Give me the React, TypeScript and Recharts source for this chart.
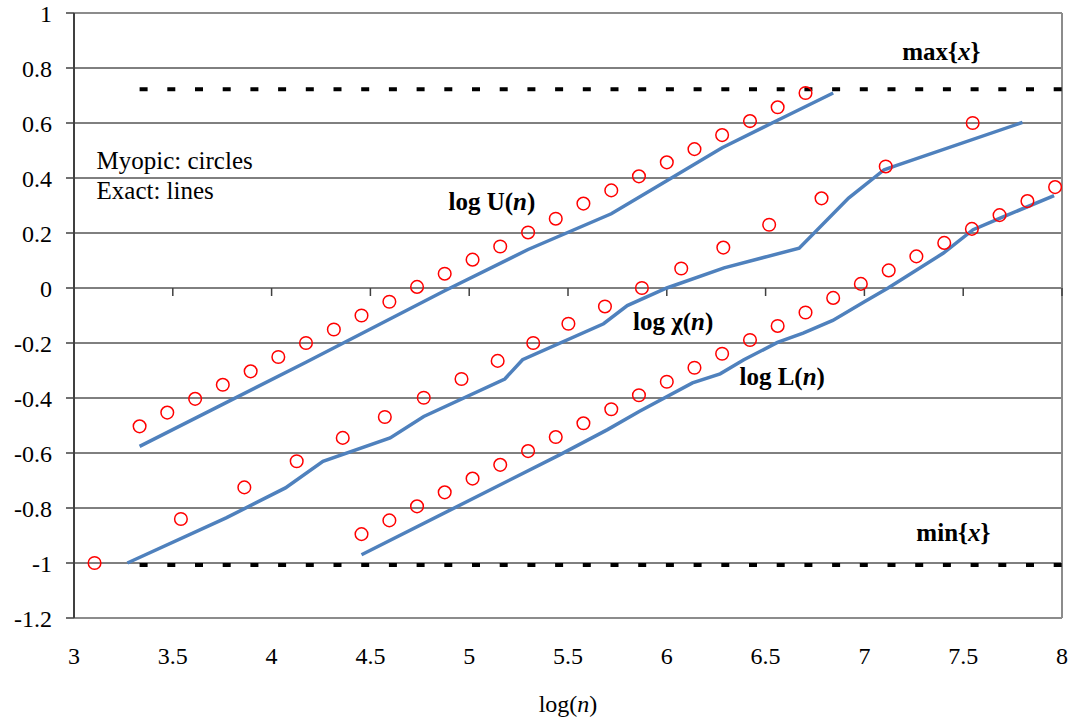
import {
  CartesianGrid,
  ComposedChart,
  Label,
  Line,
  ReferenceDot,
  ReferenceLine,
  Scatter,
  XAxis,
  YAxis,
} from 'recharts'

const SERIF = '"Liberation Serif", "Times New Roman", serif'

// log(n) grid shared by the U and L myopic estimates
const gridLogN = [
  3.332, 3.472, 3.613, 3.753, 3.894, 4.034, 4.174, 4.315, 4.455, 4.596, 4.736, 4.876,
  5.017, 5.157, 5.298, 5.438, 5.578, 5.719, 5.859, 6.0, 6.14, 6.28, 6.421, 6.561,
  6.702, 6.842, 6.982, 7.123, 7.263, 7.404, 7.544, 7.684, 7.825, 7.965,
]

// myopic (circles)
const myopicU = [
  -0.503, -0.453, -0.403, -0.352, -0.303, -0.251, -0.2, -0.151, -0.1, -0.05, 0.004,
  0.052, 0.103, 0.151, 0.202, 0.252, 0.307, 0.355, 0.406, 0.457, 0.505, 0.556, 0.607,
  0.657, 0.709,
]
const myopicL = [
  -0.895, -0.845, -0.794, -0.743, -0.693, -0.643, -0.593, -0.542, -0.492, -0.441, -0.39,
  -0.341, -0.29, -0.239, -0.189, -0.138, -0.089, -0.036, 0.015, 0.064, 0.115, 0.164,
  0.215, 0.265, 0.316, 0.367,
]
const myopicChiX = [
  3.104, 3.541, 3.862, 4.127, 4.36, 4.573, 4.77, 4.961, 5.144, 5.324, 5.502, 5.687,
  5.874, 6.073, 6.286, 6.518, 6.783, 7.108, 7.548,
]
const myopicChi = [
  -1.0, -0.84, -0.725, -0.63, -0.545, -0.469, -0.399, -0.331, -0.265, -0.2, -0.13,
  -0.067, 0.0, 0.071, 0.147, 0.23, 0.326, 0.442, 0.6,
]

// exact (lines)
const exactUX = [3.332, 4.174, 4.876, 5.298, 5.719, 6.0, 6.28, 6.561, 6.842]
const exactU = [-0.576, -0.27, -0.01, 0.14, 0.27, 0.39, 0.51, 0.61, 0.709]
const exactChiX = [
  3.27, 3.77, 4.07, 4.26, 4.6, 4.77, 5.18, 5.27, 5.68, 5.8, 6.0, 6.29, 6.67, 6.92, 7.1,
  7.16, 7.8,
]
const exactChi = [
  -1.0, -0.836, -0.727, -0.63, -0.545, -0.467, -0.331, -0.261, -0.13, -0.064, 0.0, 0.073,
  0.145, 0.327, 0.43, 0.445, 0.602,
]
const exactLX = [
  4.455, 5.46, 5.7, 5.86, 6.13, 6.27, 6.39, 6.56, 6.69, 6.84, 7.0, 7.12, 7.4, 7.55, 7.69,
  7.96,
]
const exactL = [
  -0.97, -0.606, -0.515, -0.449, -0.345, -0.312, -0.261, -0.198, -0.164, -0.118, -0.05,
  0.0, 0.127, 0.212, 0.255, 0.336,
]

// bounds
const boundX = [3.332, 8]
const maxX = 0.723
const minX = -1.007

const xTicks = [3, 3.5, 4, 4.5, 5, 5.5, 6, 6.5, 7, 7.5, 8]
const yTicks = [-1.2, -1, -0.8, -0.6, -0.4, -0.2, 0, 0.2, 0.4, 0.6, 0.8, 1]

const pts = (xs: number[], ys: number[]) => xs.map((x, i) => ({ x, y: ys[i] }))

const circlesU = pts(gridLogN.slice(0, myopicU.length), myopicU)
const circlesL = pts(gridLogN.slice(8, 8 + myopicL.length), myopicL)
const circlesChi = pts(myopicChiX, myopicChi)
const lineU = pts(exactUX, exactU)
const lineChi = pts(exactChiX, exactChi)
const lineL = pts(exactLX, exactL)
const maxLine = pts(boundX, [maxX, maxX])
const minLine = pts(boundX, [minX, minX])

const Ring = (p: any) => (
  <circle cx={p.cx} cy={p.cy} r={6.3} fill="none" stroke="#FF0000" strokeWidth={1.5} />
)

const XTick = ({ x, y, payload }: any) => (
  <text x={x} y={y + 44} textAnchor="middle" fontSize={24} fontFamily={SERIF} fill="#000">
    {payload.value}
  </text>
)

const AxisTitle = ({ viewBox }: any) => (
  <text
    x={viewBox.x + viewBox.width / 2}
    y={viewBox.y + 94}
    textAnchor="middle"
    fontSize={24}
    fontFamily={SERIF}
    fill="#000"
  >
    log(<tspan fontStyle="italic">n</tspan>)
  </text>
)

// text note anchored at a data point
const note =
  (parts: [string, string?][], anchor: 'start' | 'middle' = 'middle', bold = true) =>
  (p: any) => (
    <text
      x={p.cx}
      y={p.cy}
      textAnchor={anchor}
      fontSize={25}
      fontFamily={SERIF}
      fontWeight={bold ? 'bold' : 'normal'}
      fill="#000"
    >
      {parts.map(([t, style], i) => (
        <tspan key={i} fontStyle={style === 'i' ? 'italic' : 'normal'}>
          {t}
        </tspan>
      ))}
    </text>
  )

export default function App() {
  return (
    <div style={{ fontFamily: SERIF }}>
      <style>{'body{margin:0}'}</style>
      <ComposedChart
        width={1076}
        height={725}
        margin={{ top: 13, right: 14, bottom: 0, left: 0 }}
        style={{ fontFamily: SERIF }}
      >
        <CartesianGrid vertical={false} stroke="#000" strokeWidth={1} />
        <XAxis
          type="number"
          dataKey="x"
          domain={[3, 8]}
          ticks={xTicks}
          axisLine={false}
          tickLine={false}
          tickSize={0}
          tick={<XTick />}
          height={107}
          allowDataOverflow
        >
          <Label content={AxisTitle} />
        </XAxis>
        <YAxis
          type="number"
          dataKey="y"
          domain={[-1.2, 1]}
          ticks={yTicks}
          width={74}
          tickSize={8}
          tickMargin={14}
          axisLine={{ stroke: '#404040', strokeWidth: 2 }}
          tickLine={{ stroke: '#404040', strokeWidth: 1.5 }}
          tick={{ fontSize: 24, fill: '#000', fontFamily: SERIF }}
          allowDataOverflow
        />

        <ReferenceLine y={1} stroke="#8C8C8C" strokeWidth={2} />
        <ReferenceLine y={-1.2} stroke="#8C8C8C" strokeWidth={2} />
        <ReferenceLine x={8} stroke="#8C8C8C" strokeWidth={2} />
        {xTicks.slice(1).map((t) => (
          <ReferenceLine
            key={t}
            segment={[
              { x: t, y: 0 },
              { x: t, y: -0.029 },
            ]}
            stroke="#404040"
            strokeWidth={1.5}
          />
        ))}

        <Line
          data={maxLine}
          dataKey="y"
          stroke="#000"
          strokeWidth={4}
          strokeDasharray="8 19.7"
          dot={false}
          isAnimationActive={false}
        />
        <Line
          data={minLine}
          dataKey="y"
          stroke="#000"
          strokeWidth={4}
          strokeDasharray="8 19.7"
          dot={false}
          isAnimationActive={false}
        />

        <Line data={lineU} dataKey="y" type="linear" stroke="#4F81BD" strokeWidth={3.5} dot={false} isAnimationActive={false} />
        <Line data={lineChi} dataKey="y" type="linear" stroke="#4F81BD" strokeWidth={3.5} dot={false} isAnimationActive={false} />
        <Line data={lineL} dataKey="y" type="linear" stroke="#4F81BD" strokeWidth={3.5} dot={false} isAnimationActive={false} />

        <Scatter data={circlesU} dataKey="y" shape={Ring} isAnimationActive={false} />
        <Scatter data={circlesChi} dataKey="y" shape={Ring} isAnimationActive={false} />
        <Scatter data={circlesL} dataKey="y" shape={Ring} isAnimationActive={false} />

        <ReferenceDot x={3.114} y={0.432} r={0} shape={note([['Myopic: circles']], 'start', false)} />
        <ReferenceDot x={3.114} y={0.325} r={0} shape={note([['Exact: lines']], 'start', false)} />
        <ReferenceDot x={5.115} y={0.282} r={0} shape={note([['log U('], ['n', 'i'], [')']])} />
        <ReferenceDot x={6.032} y={-0.154} r={0} shape={note([['log χ('], ['n', 'i'], [')']])} />
        <ReferenceDot x={6.584} y={-0.352} r={0} shape={note([['log L('], ['n', 'i'], [')']])} />
        <ReferenceDot x={7.389} y={0.83} r={0} shape={note([['max{'], ['x', 'i'], ['}']])} />
        <ReferenceDot x={7.45} y={-0.921} r={0} shape={note([['min{'], ['x', 'i'], ['}']])} />
      </ComposedChart>
    </div>
  )
}
